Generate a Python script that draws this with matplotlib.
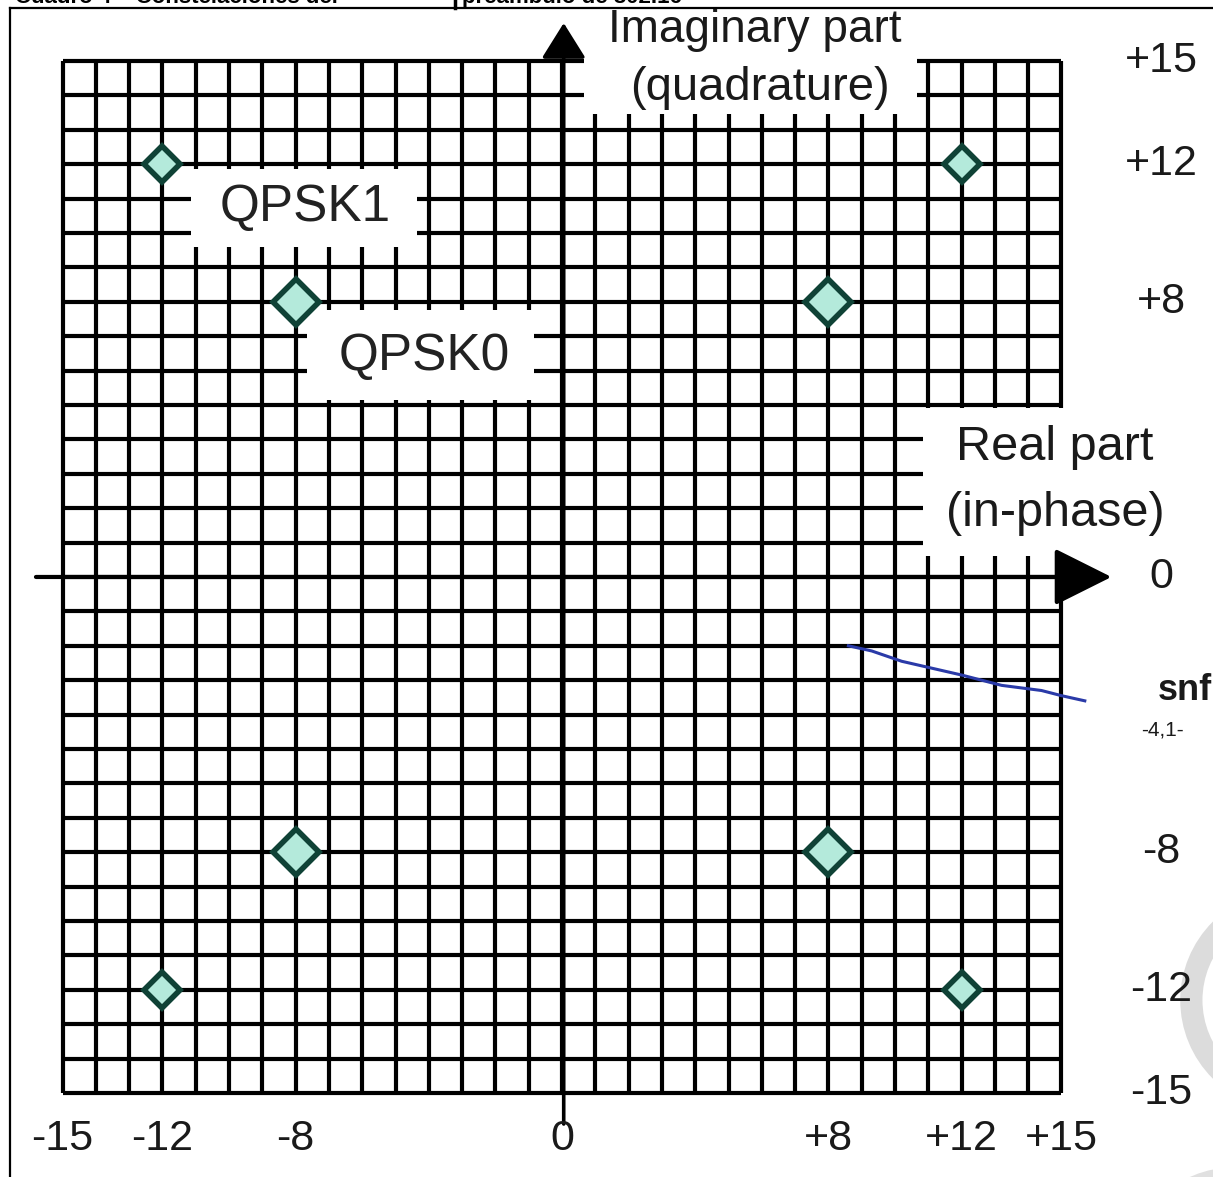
import numpy as np
import matplotlib
matplotlib.use("Agg")
import matplotlib.pyplot as plt
from matplotlib.patches import Rectangle, Ellipse
from matplotlib.lines import Line2D

plt.rcParams["font.family"] = ["Liberation Sans", "DejaVu Sans"]

# ---- data ----
GRID = np.arange(-15, 16)          # one grid line per unit, -15 .. +15
QPSK0_I = [-8, 8, -8, 8]
QPSK0_Q = [8, 8, -8, -8]
QPSK1_I = [-12, 12, -12, 12]
QPSK1_Q = [12, 12, -12, -12]
XTICKS = [-15, -12, -8, 0, 8, 12, 15]
XLABELS = ["-15", "-12", "-8", "0", "+8", "+12", "+15"]
YTICKS = [15, 12, 8, 0, -8, -12, -15]
YLABELS = ["+15", "+12", "+8", "0", "-8", "-12", "-15"]
# hand-written pen stroke on the scan
PEN_X = [8.6, 9.3, 10.2, 11.1, 12.0, 13.2, 14.4, 15.0, 15.7]
PEN_Y = [-2.0, -2.15, -2.45, -2.65, -2.85, -3.15, -3.3, -3.45, -3.6]

MINT = "#b4eadb"; TEAL = "#0f4236"; INK = "#1a1a1a"

fig = plt.figure(figsize=(12.13, 11.77), dpi=100)
ax = fig.add_axes([0, 0, 1, 1])
ax.axis("off")
ax.set_xlim(-16.88, 19.55)
ax.set_ylim(-17.44, 16.77)

# grid
ax.vlines(GRID, -15, 15, color="k", lw=3.0, zorder=1)
ax.hlines(GRID, -15, 15, color="k", lw=3.0, zorder=1)

# white label boxes punched out of the grid
for x0, y0, w, h in [(0.65, 13.45, 10.0, 4.0),     # imaginary part
                     (-11.15, 9.6, 6.8, 2.25),     # QPSK1
                     (-7.65, 5.15, 6.8, 2.6),      # QPSK0
                     (10.85, 0.6, 10.0, 4.3)]:     # real part
    ax.add_patch(Rectangle((x0, y0), w, h, facecolor="white",
                           edgecolor="none", zorder=2))

# axes with arrows
ax.annotate("", xy=(16.5, 0), xytext=(-15.8, 0), zorder=3,
            arrowprops=dict(arrowstyle="-|>,head_length=0.4,head_width=0.2",
                            lw=3.0, color="k", mutation_scale=90,
                            shrinkA=0, shrinkB=0))
ax.annotate("", xy=(0.05, 16.1), xytext=(0.05, -15.9), zorder=3,
            arrowprops=dict(arrowstyle="-|>,head_length=0.4,head_width=0.25",
                            lw=2.6, color="k", mutation_scale=55,
                            shrinkA=0, shrinkB=0))

# constellation points
ax.plot(QPSK0_I, QPSK0_Q, "D", ms=23, mfc=MINT, mec=TEAL, mew=4, ls="none", zorder=5)
ax.plot(QPSK1_I, QPSK1_Q, "D", ms=18, mfc=MINT, mec=TEAL, mew=4, ls="none", zorder=5)

ax.text(-7.7, 10.75, "QPSK1", fontsize=37, ha="center", va="center", color="#222222", zorder=4)
ax.text(-4.15, 6.4, "QPSK0", fontsize=37, ha="center", va="center", color="#222222", zorder=4)
ax.text(5.8, 15.9, "Imaginary part", fontsize=33, ha="center", va="center", color=INK)
ax.text(5.95, 14.2, "(quadrature)", fontsize=34, ha="center", va="center", color=INK)
ax.text(14.8, 3.75, "Real part", fontsize=35, ha="center", va="center", color=INK)
ax.text(14.8, 1.85, "(in-phase)", fontsize=35, ha="center", va="center", color=INK)

# tick labels
for v, s in zip(YTICKS, YLABELS):
    ax.text(18.0, v, s, fontsize=31, ha="center", va="center", color=INK)
for v, s in zip(XTICKS, XLABELS):
    ax.text(v, -16.35, s, fontsize=31, ha="center", va="center", color=INK)

# scan artefacts
ax.plot(PEN_X, PEN_Y, color="#2a3aa8", lw=2.2, zorder=6)
ax.text(17.9, -3.3, "snf", fontsize=26, fontweight="bold", ha="left", va="center", color=INK)
ax.text(17.4, -4.45, "-4,1-", fontsize=15, ha="left", va="center", color=INK)
ax.add_patch(Ellipse((21.9, -12.3), 6.0, 5.8, facecolor="none",
                     edgecolor="#dcdcdc", lw=16, zorder=0))
ax.add_patch(Ellipse((20.2, -20.3), 6.0, 5.8, facecolor="none",
                     edgecolor="#e0e0e0", lw=12, zorder=0))

# page frame and clipped caption of the scanned document
W, H = 1213, 1177
fig.add_artist(Line2D([10 / W, 1], [1 - 8 / H, 1 - 8 / H], color="k", lw=1.6))
fig.add_artist(Line2D([10 / W, 10 / W], [0, 1 - 8 / H], color="k", lw=1.6))
fig.add_artist(Line2D([455 / W, 455 / W], [1 - 8 / H, 1], color="k", lw=2.5))
fig.text(15 / W, 1 - 3 / H, "Cuadro 4 \u2013 Constelaciones del", fontsize=16,
         fontweight="bold", va="baseline", ha="left")
fig.text(462 / W, 1 - 3 / H, "pre\u00e1mbulo de 802.16", fontsize=16,
         fontweight="bold", va="baseline", ha="left")

fig.savefig("out.png", dpi=100, facecolor="white")
